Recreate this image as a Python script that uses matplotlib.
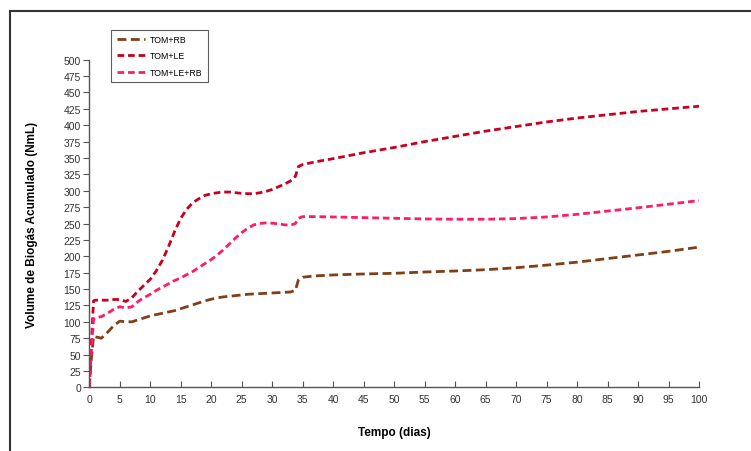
import numpy as np
import matplotlib
matplotlib.use("Agg")
from matplotlib import pyplot as plt
from matplotlib.patches import Rectangle

plt.rcParams['font.family'] = ['Liberation Sans', 'DejaVu Sans']

# dias
days = [0, 0.3, 0.7, 1, 2, 3, 4, 5, 6, 7, 8, 9, 10, 11, 12, 13, 14, 15, 16, 17,
        18, 19, 20, 21, 22, 23, 24, 25, 26, 27, 28, 29, 30, 31, 32, 33, 33.8,
        34.3, 35, 37, 40, 45, 50, 55, 60, 65, 70, 75, 80, 85, 90, 95, 100]

tom_rb = [0, 40, 78, 77, 75, 84, 94, 101, 100, 100, 103, 106, 109, 111, 113, 115,
          117, 120, 123, 126, 129, 132, 134.5, 136.5, 138, 139, 140, 141, 142,
          142.5, 143, 143.5, 144, 144.5, 145, 145.5, 148, 164, 168, 170, 171.5,
          173, 174, 176, 177.5, 179.5, 182.5, 186.5, 191, 196.5, 202, 207.5, 214]

tom_le = [0, 60, 132, 133, 133, 133, 134, 134, 131, 137, 147, 156, 165, 178, 194,
          215, 238, 258, 272, 282, 288, 293, 295.5, 297, 298, 298, 297, 296,
          295.5, 295.5, 297, 299, 302, 306, 310, 315, 322, 337, 340, 344, 349,
          358, 366, 375, 383, 391, 398, 405, 411, 416, 421, 425, 429]

tom_le_rb = [0, 50, 104, 106, 108, 113, 119, 123, 121, 123, 131, 137, 142, 148,
             153, 158, 163, 167, 172, 177, 183, 189, 195, 202, 210, 219, 228, 236,
             243, 248, 250, 251, 250.5, 249.5, 248, 247.5, 250, 258, 260.5, 260.5,
             260, 259, 258, 257, 256.5, 256.5, 257.5, 260, 264, 269, 274, 279.5, 285]

labels = ["TOM+RB", "TOM+LE", "TOM+LE+RB"]
colors = ["#7f3f17", "#c8001e", "#ff1a6e"]

fig = plt.figure(figsize=(7.51, 4.52), dpi=100)
ax = fig.add_axes([0.1189, 0.1409, 0.8119, 0.7248])

ax.plot(days, tom_rb, color=colors[0], lw=2.0, dashes=(3.2, 1.6), label=labels[0])
ax.plot(days, tom_le, color=colors[1], lw=2.0, dashes=(2.4, 1.4), label=labels[1])
ax.plot(days, tom_le_rb, color=colors[2], lw=2.0, dashes=(2.4, 1.4), label=labels[2])

ax.set_xlim(0, 100)
ax.set_ylim(0, 500)
ax.set_xticks(np.arange(0, 101, 5))
ax.set_yticks(np.arange(0, 501, 25))
for s in ["top", "right"]:
    ax.spines[s].set_visible(False)
for s in ["left", "bottom"]:
    ax.spines[s].set_color("#555555")
    ax.spines[s].set_linewidth(1.0)
ax.tick_params(axis="x", direction="in", length=4, color="#555555",
               labelsize=7.5, labelcolor="#333333", pad=5)
ax.tick_params(axis="y", direction="out", length=4, color="#555555",
               labelsize=7.5, labelcolor="#333333", pad=2)

ax.set_xlabel("Tempo (dias)", fontsize=8.5, fontweight="bold", labelpad=16)
ax.set_ylabel("Volume de Biogás Acumulado (NmL)", fontsize=8.5,
              fontweight="bold", labelpad=18)

leg = ax.legend(loc="upper left", bbox_to_anchor=(0.029, 1.105), fontsize=6.3,
                frameon=True, fancybox=False, handlelength=3.2,
                borderpad=0.6, labelspacing=0.85, handletextpad=0.6)
leg.get_frame().set_edgecolor("#333333")
leg.get_frame().set_linewidth(0.8)

# moldura externa
fig.patches.append(Rectangle((10 / 751, -0.05), 1.2, 1.05 - 12 / 452,
                             transform=fig.transFigure, fill=False,
                             edgecolor="#333333", linewidth=1.5))

fig.savefig("out.png", dpi=100)
